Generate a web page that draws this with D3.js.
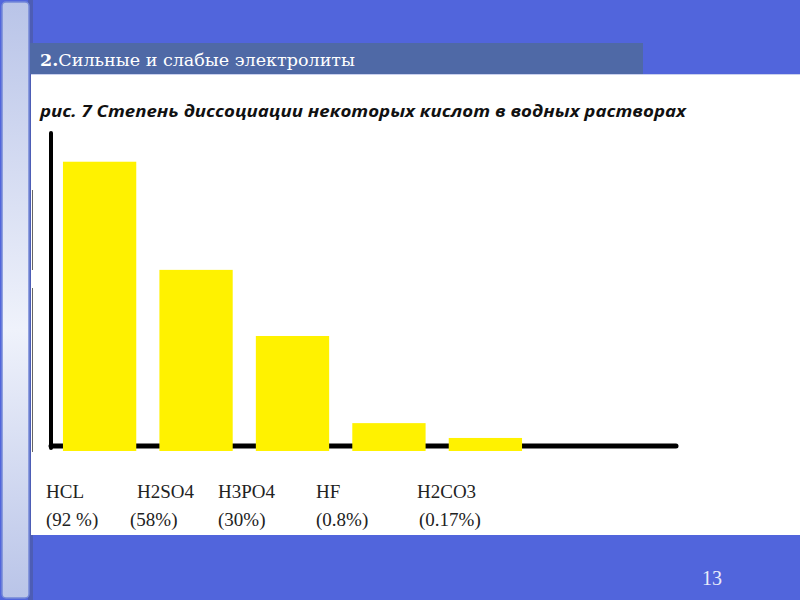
<!DOCTYPE html>
<html>
<head>
<meta charset="utf-8">
<script src="https://cdn.jsdelivr.net/npm/d3@7/dist/d3.min.js"></script>
<style>
  html, body { margin: 0; padding: 0; background: #5165dc; }
  svg { display: block; }
</style>
</head>
<body>
<svg id="slide" width="800" height="600"></svg>
<script>
// acids shown on the slide
const acids = ["HCL", "H2SO4", "H3PO4", "HF", "H2CO3"];
// degree of dissociation, as printed under each bar
const percentLabels = ["(92 %)", "(58%)", "(30%)", "(0.8%)", "(0.17%)"];
// bar heights as drawn in the picture (schematic, in % units)
const barHeights = [92, 57, 35.6, 7.4, 2.6];

const slideTitle = "Сильные и слабые электролиты";
const chartTitle = "рис. 7 Степень диссоциации некоторых кислот в водных растворах";

const svg = d3.select("#slide");

// --- slide background ---
const defs = svg.append("defs");
const grad = defs.append("linearGradient")
  .attr("id", "stripe").attr("x1", 0).attr("y1", 0).attr("x2", 0).attr("y2", 1);
grad.append("stop").attr("offset", "0%").attr("stop-color", "#b9c4e8");
grad.append("stop").attr("offset", "55%").attr("stop-color", "#eff2fb");
grad.append("stop").attr("offset", "100%").attr("stop-color", "#b9c4e8");

svg.append("rect").attr("x", 0).attr("y", 0).attr("width", 800).attr("height", 600)
  .attr("fill", "#5165dc");
svg.append("rect").attr("x", 28).attr("y", 0).attr("width", 5).attr("height", 600)
  .attr("fill", "#4d5db5");
svg.append("rect").attr("x", 2).attr("y", 2).attr("width", 27).attr("height", 596)
  .attr("rx", 4).attr("fill", "url(#stripe)").attr("stroke", "#7488d8").attr("stroke-width", 1.5);

// white content area
svg.append("rect").attr("x", 31).attr("y", 74).attr("width", 769).attr("height", 461)
  .attr("fill", "#ffffff");
svg.append("line").attr("x1", 31).attr("x2", 800).attr("y1", 74.5).attr("y2", 74.5)
  .attr("stroke", "#c9d0ee").attr("stroke-width", 1);

// header bar
svg.append("rect").attr("x", 30).attr("y", 43).attr("width", 613).attr("height", 31)
  .attr("fill", "#4f69a6");
const head = svg.append("text").attr("x", 40).attr("y", 66)
  .attr("font-family", "DejaVu Serif, serif").attr("font-size", 17)
  .attr("fill", "#ffffff").attr("textLength", 315).attr("lengthAdjust", "spacingAndGlyphs");
head.append("tspan").attr("font-weight", "bold").text("2.");
head.append("tspan").text(slideTitle);

// chart title
svg.append("text").attr("x", 40).attr("y", 117)
  .attr("font-family", "'Open Sans', sans-serif").attr("font-size", 16)
  .attr("font-weight", "bold").attr("font-style", "italic")
  .attr("fill", "#111").attr("textLength", 646).attr("lengthAdjust", "spacingAndGlyphs")
  .text(chartTitle);

// faint border artefacts left of the axis
[[190, 270], [288, 452]].forEach(([a, b]) => {
  svg.append("line").attr("x1", 32.5).attr("x2", 32.5).attr("y1", a).attr("y2", b)
    .attr("stroke", "#666").attr("stroke-width", 1);
});

// --- chart ---
const x = d3.scaleBand().domain(acids).range([51, 534]).paddingInner(0.24).paddingOuter(0.124);
const y = d3.scaleLinear().domain([0, 100]).range([446, 137]);

// axes (plain thick lines, no ticks)
svg.append("line").attr("x1", 51).attr("x2", 51).attr("y1", y(0) + 2).attr("y2", y(100) - 4)
  .attr("stroke", "#000").attr("stroke-width", 4).attr("stroke-linecap", "round");
svg.append("line").attr("x1", 51).attr("x2", 676).attr("y1", y(0)).attr("y2", y(0))
  .attr("stroke", "#000").attr("stroke-width", 5).attr("stroke-linecap", "round");

svg.append("g").selectAll("rect").data(barHeights).join("rect")
  .attr("x", (d, i) => x(acids[i]))
  .attr("width", x.bandwidth())
  .attr("y", d => y(d))
  .attr("height", d => y(0) - y(d) + 5)
  .attr("fill", "#fff200");

// labels under the chart
const labelX = [46, 137, 218, 316, 417];
const labelX2 = [46, 130, 218, 316, 419];
const lab = svg.append("g").attr("font-family", "Liberation Serif, serif")
  .attr("font-size", 19).attr("fill", "#222");
lab.selectAll("text.name").data(acids).join("text").attr("class", "name")
  .attr("x", (d, i) => labelX[i]).attr("y", 498).text(d => d);
lab.selectAll("text.pct").data(percentLabels).join("text").attr("class", "pct")
  .attr("x", (d, i) => labelX2[i]).attr("y", 526).text(d => d);

// page number
svg.append("text").attr("x", 702).attr("y", 585)
  .attr("font-family", "Liberation Serif, serif").attr("font-size", 20)
  .attr("fill", "#e8ebfa").text("13");
</script>
</body>
</html>
